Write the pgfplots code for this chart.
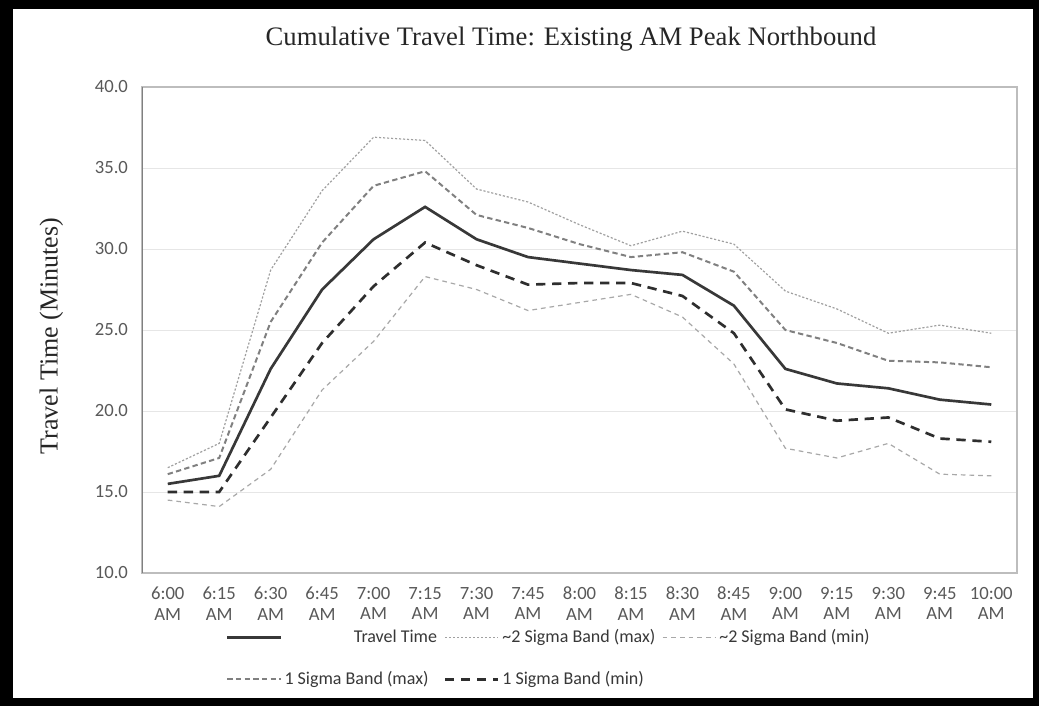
\documentclass[border=0pt]{standalone}
\usepackage{fontspec}
\setmainfont{Liberation Serif}
\newfontfamily\carlito{Carlito}
\usepackage{pgfplots}
\usepackage{pgfplotstable}
\pgfplotsset{compat=1.18}
\definecolor{tickgray}{HTML}{595959}
\definecolor{gridgray}{HTML}{E6E6E6}
\definecolor{framegray}{HTML}{BDBDBD}
\definecolor{ttcol}{HTML}{383838}
\definecolor{smaxtwo}{HTML}{A0A0A0}
\definecolor{smintwo}{HTML}{A8A8A8}
\definecolor{smaxone}{HTML}{808080}
\definecolor{sminone}{HTML}{2E2E2E}
\pgfplotstableread{
x tt s2max s2min s1max s1min
0  15.5 16.5 14.5 16.1 15.0
1  16.0 18.0 14.1 17.1 15.0
2  22.6 28.7 16.4 25.5 19.6
3  27.5 33.6 21.3 30.4 24.2
4  30.6 36.9 24.3 33.9 27.7
5  32.6 36.7 28.3 34.8 30.4
6  30.6 33.7 27.5 32.1 29.0
7  29.5 32.9 26.2 31.3 27.8
8  29.1 31.5 26.7 30.3 27.9
9  28.7 30.2 27.2 29.5 27.9
10 28.4 31.1 25.8 29.8 27.1
11 26.5 30.3 22.9 28.6 24.8
12 22.6 27.4 17.7 25.0 20.1
13 21.7 26.3 17.1 24.2 19.4
14 21.4 24.8 18.0 23.1 19.6
15 20.7 25.3 16.1 23.0 18.3
16 20.4 24.8 16.0 22.7 18.1
}\datatable
\begin{document}
\begin{tikzpicture}
\path[use as bounding box] (0,0) rectangle (779.25pt,529.5pt);
\fill[white] (0,0) rectangle (779.25pt,529.5pt);
\fill[black] (0,0) rectangle (9.5pt,529.5pt);
\fill[black] (0,522.75pt) rectangle (779.25pt,529.5pt);
\fill[black] (0,0) rectangle (779.25pt,6pt);
\fill[black] (774.75pt,0) rectangle (779.25pt,529.5pt);
\node[font=\fontsize{20}{22}\selectfont, text=black!85] at (428.25pt,500.5pt) {Cumulative Travel Time: Existing AM Peak Northbound};
\node[font=\fontsize{19.5}{22}\selectfont, text=black!85, rotate=90] at (38.5pt,277.5pt) {Travel Time (Minutes)};
\begin{axis}[
  at={(106.5pt,99.75pt)}, anchor=south west,
  width=656.25pt, height=364.5pt, scale only axis,
  xmin=-0.5, xmax=16.5, ymin=10, ymax=40,
  xtick={0,...,16},
  xticklabels={{6:00\\AM},{6:15\\AM},{6:30\\AM},{6:45\\AM},{7:00\\AM},{7:15\\AM},{7:30\\AM},{7:45\\AM},{8:00\\AM},{8:15\\AM},{8:30\\AM},{8:45\\AM},{9:00\\AM},{9:15\\AM},{9:30\\AM},{9:45\\AM},{10:00\\AM}},
  xticklabel style={align=center, font=\carlito\fontsize{14}{15.5}\selectfont, text=tickgray, yshift=-7pt},
  ytick={10,15,...,40},
  yticklabel style={font=\carlito\fontsize{14}{16}\selectfont, text=tickgray, xshift=-7pt},
  /pgf/number format/.cd, fixed, fixed zerofill, precision=1, assume math mode=true,
  /pgfplots/.cd,
  major tick length=0pt,
  ymajorgrids, grid style={gridgray, line width=0.7pt},
  axis line style={framegray, line width=0.8pt},
  legend columns=3,
  legend cell align=left,
  legend style={at={(0.094,-0.108)}, anchor=north west, draw=none, fill=none,
    font=\carlito\fontsize{13.5}{15}\selectfont, text=black!78,
    row sep=16pt, inner sep=1pt,
    /tikz/every even column/.append style={column sep=3pt}},
  legend image code/.code={\draw[#1] (0pt,0pt) -- (40pt,0pt);},
]
\addplot[ttcol, line width=2pt] table[x=x, y=tt] {\datatable};
\addlegendentry{\hspace*{52pt}Travel Time}
\addplot[smaxtwo, line width=0.9pt, dash pattern=on 1.6pt off 1.4pt] table[x=x, y=s2max] {\datatable};
\addlegendentry{\textasciitilde2 Sigma Band (max)}
\addplot[smintwo, line width=0.9pt, dash pattern=on 3.5pt off 3pt] table[x=x, y=s2min] {\datatable};
\addlegendentry{\textasciitilde2 Sigma Band (min)}
\addplot[smaxone, line width=1.5pt, dash pattern=on 4pt off 2.5pt] table[x=x, y=s1max] {\datatable};
\addlegendentry{1 Sigma Band (max)}
\addplot[sminone, line width=2pt, dash pattern=on 7pt off 5pt] table[x=x, y=s1min] {\datatable};
\addlegendentry{1 Sigma Band (min)}
\draw[black!50, line width=1pt] (rel axis cs:0,0) -- (rel axis cs:0,1);
\end{axis}
\end{tikzpicture}
\end{document}
